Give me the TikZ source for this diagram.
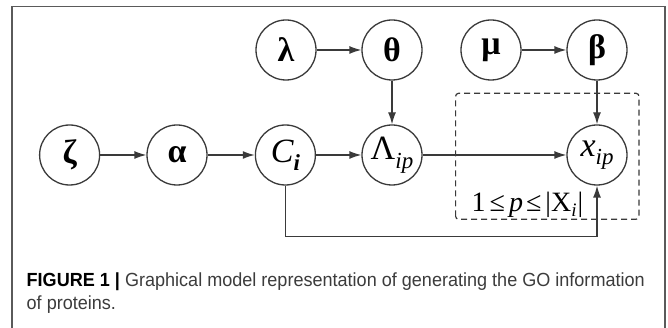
\documentclass[tikz,border=0pt]{standalone}
\usepackage{fontspec}
\setmainfont{Liberation Serif}
\newfontfamily\capfont[FakeStretch=0.95]{Liberation Sans}
\usetikzlibrary{arrows.meta}
\definecolor{ln}{HTML}{3A3A3A}
\definecolor{fr}{HTML}{5A5A5A}
\definecolor{captxt}{HTML}{3C3C3C}
\newcommand\mysub[1]{\raisebox{-0.25em}{\fontsize{23}{23}\selectfont #1}}
\tikzset{
  var/.style={circle, draw=ln, line width=1.3pt, minimum size=60pt, inner sep=0pt, font=\fontsize{34}{34}\selectfont},
  edge/.style={draw=ln, line width=1.3pt, -{Latex[length=12pt,width=8pt]}},
  plate/.style={draw=ln, line width=1.2pt, dash pattern=on 6pt off 4pt, rounded corners=3pt},
}
\begin{document}
\begin{tikzpicture}[x=1pt,y=1pt]
\useasboundingbox (0,0) rectangle (668,328);
\fill[white] (0,0) rectangle (668,328);
% outer frame
\draw[fr, line width=1.3pt] (12,-5) -- (12,321.7) -- (665,321.7) -- (665,-5);
% plate
\draw[plate] (455.6,108.7) rectangle (639,234.7);
% nodes
\node[var] (lam) at (286,278) {\bfseries λ};
\node[var] (the) at (392,278) {\bfseries θ};
\node[var] (mu)  at (491,278) {\bfseries μ};
\node[var] (bet) at (597,278) {\bfseries β};
\node[var] (zet) at (69.6,173) {\bfseries ζ};
\node[var] (alp) at (177,173) {\bfseries α};
\node[var] (ci)  at (285.4,173) {\itshape C\mysub{\bfseries i}};
\node[var] (Lam) at (392,173) {Λ\mysub{\itshape ip}};
\node[var] (xip) at (597,173) {\itshape x\mysub{ip}};
% plate label
\node[anchor=base west, inner sep=0pt, font=\fontsize{28}{28}\selectfont] (lbl) at (471.5,116.3)
  {1\hspace{4pt}≤\hspace{4pt}\textit{p}\hspace{3pt}≤\hspace{4pt}|X\raisebox{-0.18em}{\fontsize{19}{19}\selectfont\itshape i}\kern1pt|};
% edges
\draw[edge] (lam) -- (the);
\draw[edge] (mu) -- (bet);
\draw[edge] (zet) -- (alp);
\draw[edge] (alp) -- (ci);
\draw[edge] (ci) -- (Lam);
\draw[edge] (Lam) -- (xip);
\draw[edge] (the) -- (Lam);
\draw[edge] (bet) -- (xip);
\coordinate (bl) at (285.4,91.3);
\coordinate (br) at (597,91.3);
\draw[edge] (ci.south) -- (bl) -- (br) -- (xip.south);
% caption
\node[anchor=base west, inner sep=0pt, text=captxt, font=\capfont\fontsize{19}{19}\selectfont] (cap1) at (26.5,41.3)
  {\textcolor{black}{\bfseries FIGURE 1 |} Graphical model representation of generating the GO information};
\node[anchor=base west, inner sep=0pt, text=captxt, font=\capfont\fontsize{19}{19}\selectfont] (cap2) at (26.5,18)
  {of proteins.};
\end{tikzpicture}
\end{document}
